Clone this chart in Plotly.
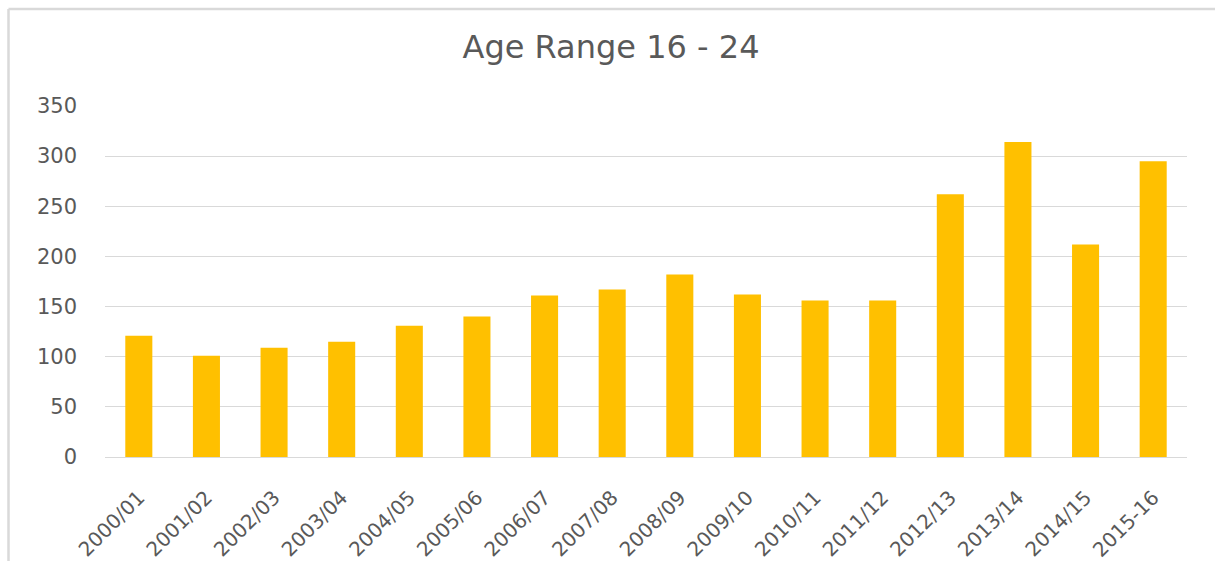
import plotly.graph_objects as go

categories = ["2000/01", "2001/02", "2002/03", "2003/04", "2004/05", "2005/06",
              "2006/07", "2007/08", "2008/09", "2009/10", "2010/11", "2011/12",
              "2012/13", "2013/14", "2014/15", "2015-16"]
values = [121, 101, 109, 115, 131, 140, 161, 167, 182, 162, 156, 156, 262, 314, 212, 295]
y_ticks = [0, 50, 100, 150, 200, 250, 300, 350]

W, H = 1215, 561
ml, mr, mt, mb = 105, 28, 106, 104
pw, ph = W - ml - mr, H - mt - mb

fig = go.Figure(go.Bar(x=categories, y=values, marker_color="#FFC000",
                       marker_line_width=0))

def px2paper_x(px):
    return (px - ml) / pw

def px2paper_y(py):
    return (H - mb - py) / ph

border = dict(color="#d9d9d9", width=2.5)

fig.update_layout(
    width=W, height=H,
    margin=dict(l=ml, r=mr, t=mt, b=mb),
    paper_bgcolor="white", plot_bgcolor="white",
    bargap=0.6,
    showlegend=False,
    title=dict(text="Age Range 16 - 24", x=611 / W, xref="container",
               y=1 - 47 / H, yref="container", xanchor="center", yanchor="middle",
               font=dict(family="DejaVu Sans", size=32, color="#595959")),
    font=dict(family="DejaVu Sans", color="#595959"),
    xaxis=dict(tickangle=-45, tickfont=dict(size=20, family="DejaVu Sans", color="#595959"),
               showgrid=False, showline=True, linecolor="#d9d9d9", linewidth=1,
               ticks="", ticklabelstandoff=20, automargin=False),
    yaxis=dict(range=[0, 350], tickvals=y_ticks, showgrid=True, gridcolor="#d9d9d9",
               gridwidth=1, zeroline=True, zerolinecolor="#d9d9d9", zerolinewidth=1,
               tickfont=dict(size=21, family="DejaVu Sans", color="#595959"),
               ticks="", ticklabelstandoff=27, automargin=False),
    shapes=[
        dict(type="line", xref="paper", yref="paper",
             x0=px2paper_x(8.5), x1=px2paper_x(1216),
             y0=px2paper_y(9), y1=px2paper_y(9), line=border, layer="below"),
        dict(type="line", xref="paper", yref="paper",
             x0=px2paper_x(8.5), x1=px2paper_x(8.5),
             y0=px2paper_y(9), y1=px2paper_y(562), line=border, layer="below"),
    ],
)

fig.write_html("out.html", config={"displayModeBar": False},
               post_script="document.body.style.margin='0';document.body.style.overflow='hidden';")
